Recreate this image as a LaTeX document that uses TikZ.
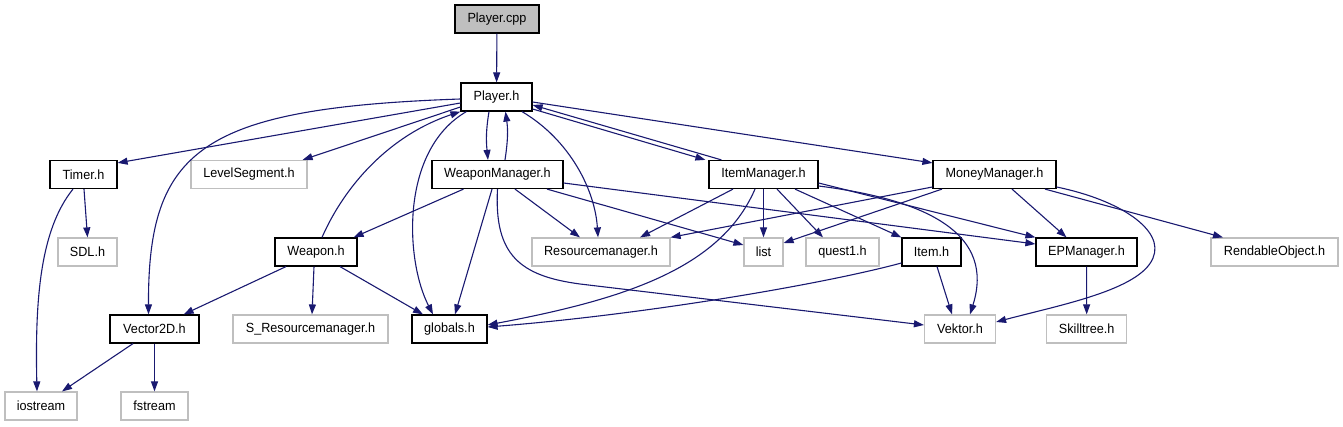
\documentclass[tikz,border=0pt]{standalone}
\usepackage{fontspec}
\setmainfont{Liberation Sans}[FakeStretch=0.95]
\usetikzlibrary{arrows.meta}
\definecolor{edgec}{HTML}{191970}
\definecolor{undoc}{HTML}{BFBFBF}
\begin{document}
\begin{tikzpicture}[x=1pt,y=-1pt,
  box/.style={rectangle, minimum height=28pt, inner sep=0pt, line width=1.2pt, fill=white, font=\fontsize{13.3}{15}\selectfont},
  doc/.style={box, draw=black},
  udoc/.style={box, draw=undoc},
  root/.style={box, draw=black, fill=undoc},
  e/.style={draw=edgec, line width=1.1pt, -{Triangle[length=10pt,width=7pt]}}]
\useasboundingbox (0,0) rectangle (1343,427);
% nodes
\node[root, minimum width=84pt] (pcpp) at (497,19) {Player.cpp};
\node[doc, minimum width=71pt] (ph) at (496.5,97) {Player.h};
\node[doc, minimum width=67pt] (timer) at (83.5,174.5) {Timer.h};
\node[udoc, minimum width=116pt] (lvl) at (249,174.5) {LevelSegment.h};
\node[doc, minimum width=131pt] (wm) at (497.5,174.5) {WeaponManager.h};
\node[doc, minimum width=109pt] (im) at (763.5,174.5) {ItemManager.h};
\node[doc, minimum width=123pt] (mm) at (994.5,174.5) {MoneyManager.h};
\node[doc, minimum width=82pt] (weapon) at (316,252) {Weapon.h};
\node[udoc, minimum width=59pt] (sdl) at (87.5,252) {SDL.h};
\node[udoc, minimum width=138pt] (res) at (601,252) {Resourcemanager.h};
\node[udoc, minimum width=39pt] (list) at (763.5,252) {list};
\node[udoc, minimum width=73pt] (quest) at (842.5,252) {quest1.h};
\node[doc, minimum width=59pt] (item) at (931.5,252) {Item.h};
\node[doc, minimum width=101pt] (ep) at (1086.5,252) {EPManager.h};
\node[udoc, minimum width=127pt] (rend) at (1274.5,252) {RendableObject.h};
\node[doc, minimum width=89pt] (vec) at (154.5,329) {Vector2D.h};
\node[udoc, minimum width=155pt] (sres) at (310.5,329) {S\_Resourcemanager.h};
\node[doc, minimum width=75pt] (glob) at (449.5,329) {globals.h};
\node[udoc, minimum width=71pt] (vek) at (960,329) {Vektor.h};
\node[udoc, minimum width=80pt] (skill) at (1086.7,329) {Skilltree.h};
\node[udoc, minimum width=72pt] (io) at (41,406) {iostream};
\node[udoc, minimum width=67pt] (fs) at (154.5,406) {fstream};
% edges
\draw[e] (pcpp) -- (ph);
\draw[e] ([yshift=-2]ph.west) .. controls (200,108) and (148,150) .. ([xshift=-6]vec.north);
\draw[e] ([yshift=-6]ph.west) -- ([yshift=-3]timer.north east);
\draw[e] ([yshift=-10]ph.west) -- ([xshift=-5]lvl.north east);
\draw[e] ([xshift=-7.5]ph.south) .. controls (486,130) and (486,140) .. ([xshift=-9.5]wm.north);
\draw[e] ([xshift=7.5]wm.north) .. controls (508,140) and (508,130) .. ([xshift=9]ph.south);
\draw[e] ([xshift=6]weapon.north) .. controls (345,185) and (390,135) .. (ph.south west);
\draw[e] ([xshift=6]ph.south west) .. controls (400,150) and (405,260) .. ([xshift=-16.5]glob.north);
\draw[e] ([xshift=25.5]ph.south) .. controls (570,140) and (595,190) .. ([xshift=-3]res.north);
\draw[e] ([yshift=-12]ph.east) -- ([xshift=-3]im.north west);
\draw[e] ([xshift=13]im.north west) -- ([yshift=-8]ph.east);
\draw[e] ([yshift=-5]ph.east) -- ([yshift=-3]mm.north west);
\draw[e] ([xshift=-34]wm.south) -- ([xshift=-4]weapon.north east);
\draw[e] ([xshift=-5.5]wm.south) -- ([xshift=5.5]glob.north);
\draw[e] (wm.south) .. controls (494,255) and (520,276) .. (580,284) -- ([yshift=4]vek.west);
\draw[e] ([xshift=17.5]wm.south) -- ([xshift=-21]res.north);
\draw[e] ([xshift=49.5]wm.south) -- ([yshift=7]list.west);
\draw[e] ([yshift=-8.5]wm.east) -- ([yshift=8]ep.west);
\draw[e] ([xshift=-30]weapon.south) -- ([xshift=-16]vec.north east);
\draw[e] ([xshift=-2]weapon.south) -- ([xshift=1.5]sres.north);
\draw[e] ([xshift=24]weapon.south) -- ([xshift=-26.5]glob.north);
\draw[e] ([xshift=0.5]timer.south) -- (sdl.north);
\draw[e] ([xshift=-10.5]timer.south) .. controls (40,230) and (35,300) .. ([xshift=-4]io.north);
\draw[e] ([xshift=-21.5]vec.south) -- ([xshift=21]io.north);
\draw[e] (vec) -- (fs);
\draw[e] ([xshift=-30.5]im.south) -- ([xshift=39]res.north);
\draw[e] ([xshift=-8.5]im.south) .. controls (720,270) and (620,300) .. ([yshift=4]glob.east);
\draw[e] (im) -- (list);
\draw[e] ([xshift=13.5]im.south) -- ([xshift=-19.5]quest.north);
\draw[e] ([xshift=31.5]im.south) -- (item.north west);
\draw[e] ([yshift=-8.5]im.east) -- (ep.north west);
\draw[e] ([yshift=-11.5]im.east) .. controls (930,200) and (995,235) .. ([xshift=10]vek.north);
\draw[e] ([yshift=-12.5]mm.west) -- (res.north east);
\draw[e] ([xshift=-52.5]mm.south) -- ([yshift=9]list.east);
\draw[e] ([xshift=17.5]mm.south) -- ([xshift=-20]ep.north);
\draw[e] ([xshift=50.5]mm.south) -- ([xshift=-51.5]rend.north);
\draw[e] ([yshift=-12.5]mm.east) .. controls (1120,200) and (1165,230) .. (1153,258) .. controls (1140,290) and (1060,305) .. ([yshift=7]vek.east);
\draw[e] (ep) -- (skill);
\draw[e] ([xshift=5.5]item.south) -- ([xshift=-8]vek.north);
\draw[e] ([yshift=-11]item.west) .. controls (820,285) and (640,315) .. ([yshift=2]glob.east);
\end{tikzpicture}
\end{document}
